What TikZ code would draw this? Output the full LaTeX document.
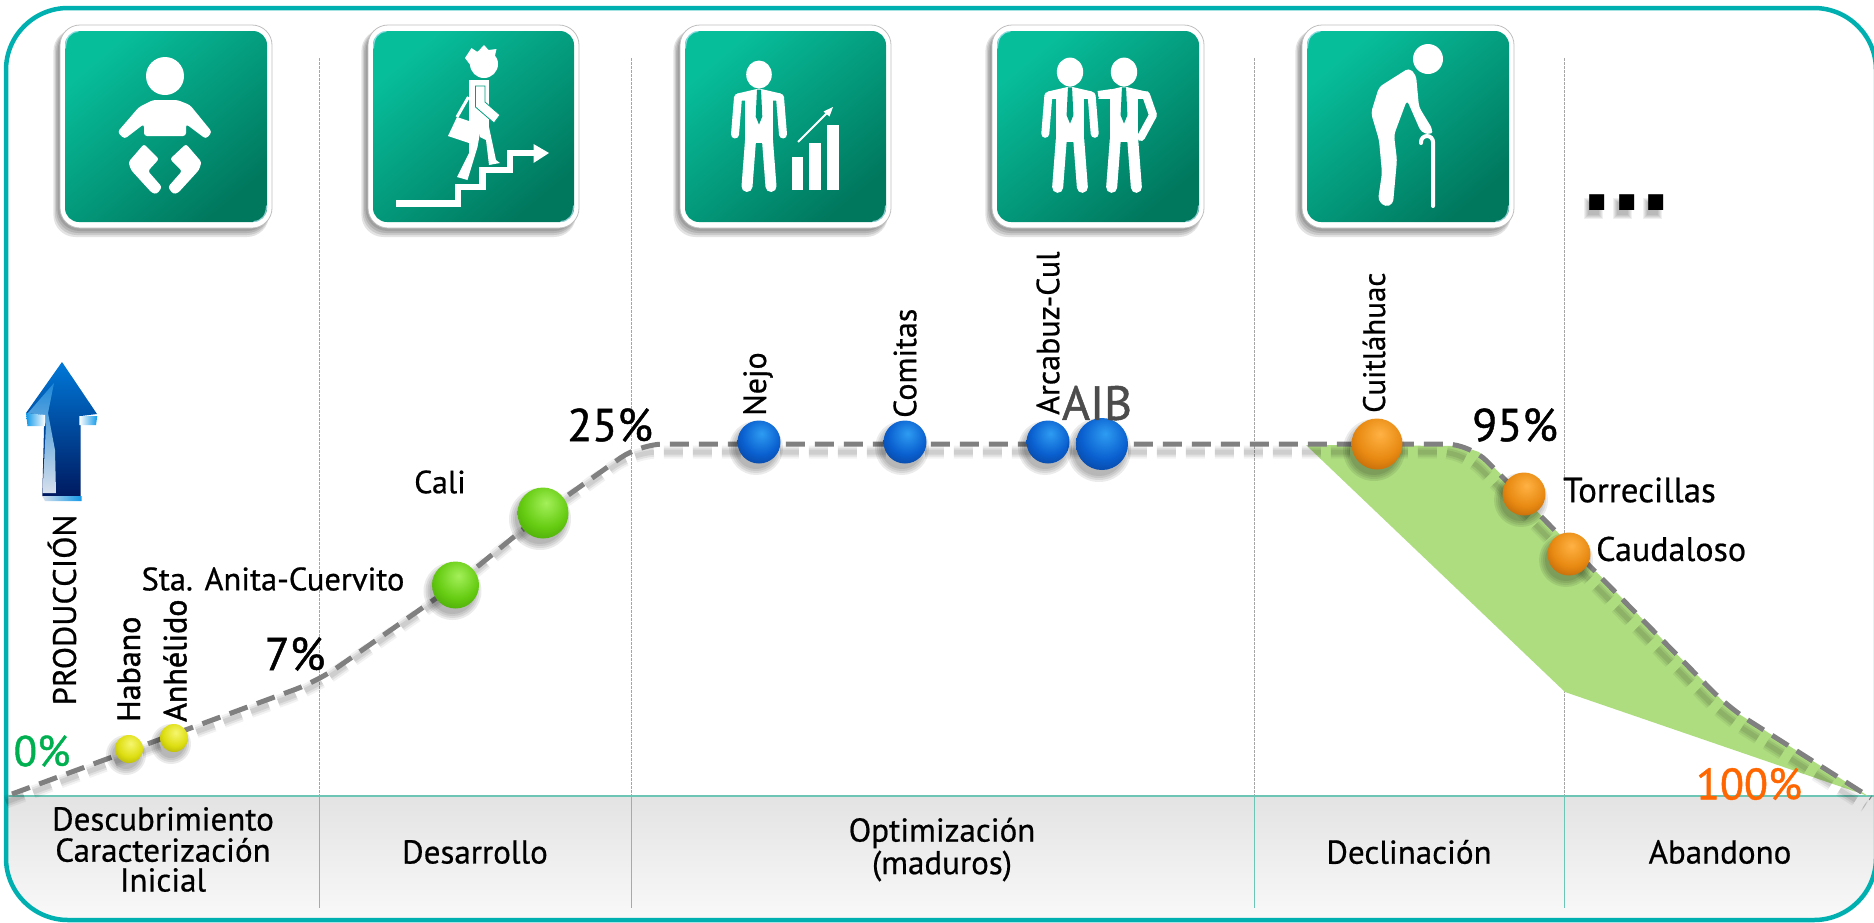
\documentclass[tikz,border=0pt]{standalone}
\usepackage{fontspec}
\setmainfont{PT Sans}[FakeBold=0.6]
\newfontfamily\dotfont{Liberation Sans}
\newfontfamily\heavyf{PT Sans}[FakeBold=1.4]
\newfontfamily\pctf{PT Sans}[FakeBold=1.0]
\usetikzlibrary{calc}
\definecolor{teal1}{HTML}{00B0B0}
\definecolor{bandline}{HTML}{6CC5B5}
\definecolor{tileA}{HTML}{07BE9B}
\definecolor{tileB}{HTML}{00785E}
\definecolor{tileM}{HTML}{009E80}
\definecolor{dashg}{HTML}{808080}
\definecolor{leaf}{HTML}{AEDD80}
\definecolor{pctgreen}{HTML}{00B050}
\definecolor{pctorange}{HTML}{FF6600}
\definecolor{gA}{HTML}{A4F05A}\definecolor{gB}{HTML}{66CC12}\definecolor{gC}{HTML}{308600}
\definecolor{yA}{HTML}{F6F670}\definecolor{yB}{HTML}{DEDE12}\definecolor{yC}{HTML}{868600}
\definecolor{bA}{HTML}{2E9CF2}\definecolor{bB}{HTML}{0A60D0}\definecolor{bC}{HTML}{042A70}
\definecolor{oA}{HTML}{FFB244}\definecolor{oB}{HTML}{E88A12}\definecolor{oC}{HTML}{964400}
\definecolor{arT}{HTML}{0078D8}\definecolor{arM}{HTML}{0050A8}\definecolor{arB}{HTML}{001A60}
\definecolor{arL}{HTML}{1E88D8}\definecolor{arS}{HTML}{8FB4DC}\definecolor{arW}{HTML}{D8E0EC}
\definecolor{arF}{HTML}{1098E8}
\pgfdeclareradialshading{ballG}{\pgfpoint{3bp}{10bp}}{color(0bp)=(gA);color(22bp)=(gB);color(50bp)=(gC);color(100bp)=(gC)}
\pgfdeclareradialshading{ballY}{\pgfpoint{3bp}{10bp}}{color(0bp)=(yA);color(22bp)=(yB);color(50bp)=(yC);color(100bp)=(yC)}
\pgfdeclareradialshading{ballB}{\pgfpoint{3bp}{10bp}}{color(0bp)=(bA);color(22bp)=(bB);color(50bp)=(bC);color(100bp)=(bC)}
\pgfdeclareradialshading{ballO}{\pgfpoint{3bp}{10bp}}{color(0bp)=(oA);color(22bp)=(oB);color(50bp)=(oC);color(100bp)=(oC)}
\newcommand\fsz[1]{\fontsize{#1}{#1}\selectfont}
\tikzset{
  lbl/.style={inner sep=0pt,text=black},
  sep/.style={draw=gray!70,line width=.7,dash pattern=on 2.5pt off 1.5pt},
  sepb/.style={draw=bandline,line width=1},
  icon/.style={fill=white,draw=none},
  curveline/.style={draw=dashg,line width=5,dash pattern=on 19pt off 10pt},
  curveshadow/.style={draw=black,dash pattern=on 19pt off 10pt,shift={(-6,8)}},
  ballnode/.style={circle,inner sep=0,minimum size=#1},
}
\newcommand\tile[2]{%
  \foreach \e in {8,6,4,2}{\fill[black,opacity=.11,rounded corners=22] ({#1-1-\e*.7},29) rectangle ({#2-3},{229+\e});}
  \fill[white,draw=gray!50,line width=.8,rounded corners=20] (#1,25) rectangle (#2,228);
  \shade[top color=tileA,bottom color=tileB,shading angle=40,rounded corners=14] ({#1+5},31) rectangle ({#2-5},222);
  \draw[cyan!25!white,opacity=.7,line width=1.2,line cap=round] ({#1+5.5},48) .. controls ({#1+5.5},38) and ({#1+10},32) .. ({#1+18},31.5);
  \draw[cyan!25!white,opacity=.7,line width=1.2,line cap=round] ({#2-5.5},206) .. controls ({#2-5.5},215) and ({#2-10},221) .. ({#2-18},221.5);}
\newcommand\manbase[2]{\begin{scope}[shift={(#1,#2)}]
  \fill[icon] (0,0) ellipse [x radius=12.8,y radius=14];
  \fill[icon] (0,14)--(21.6,19)--(25,26)--(-25,26)--(-21.6,19)--cycle;
  \fill[icon] (-14,22) rectangle (14,68);
  \draw[white,line width=11,line cap=round] (-8.5,66)--(-12,112);
  \draw[white,line width=11,line cap=round] (8.5,66)--(12,112);
  \fill[tileM] (-2,15)--(2,15)--(3.3,42)--(0,50)--(-3.3,42)--cycle;
\end{scope}}
\newcommand\manarmL[2]{\draw[white,line width=8,line cap=round] ({#1-21},{#2+23})--({#1-24},{#2+60});}
\newcommand\manarmR[2]{\draw[white,line width=8,line cap=round] ({#1+21},{#2+23})--({#1+24},{#2+60});}
\newcommand\ballshadow[3]{\foreach \e in {6,4,2,0}{\fill[black,opacity=.08] ({#1-3},{#2+6}) circle ({#3+\e});}}
\newcommand\curvepath{(12,794)--(318,681)--(455,585)--(543,513)--(640,444)--(1470,444)--(1729,708)--(1871,798)}
\begin{document}
\begin{tikzpicture}[x=1pt,y=-1pt]
\useasboundingbox (0,0) rectangle (1874,922);
\fill[white] (0,0) rectangle (1874,922);
% band
\begin{scope}
  \clip[rounded corners=62] (6,8) rectangle (1876,920);
  \shade[top color=black!11,bottom color=black!2] (0,796) rectangle (1880,925);
\end{scope}
\draw[teal1,line width=4.5,rounded corners=62] (6,8) rectangle (1876,920);
% separators
\foreach \x in {319,631,1254,1564}{
  \draw[sep] (\x,58)--(\x,796);
  \draw[sepb] (\x,796)--(\x,908);
}
\draw[bandline,line width=1.4] (8,796)--(1874,796);
% tiles
\tile{60}{272}\tile{368}{579}\tile{680}{891}\tile{992}{1204}\tile{1302}{1514}
% baby
\fill[icon] (165,76) circle [x radius=19,y radius=19];
\fill[icon,rounded corners=3] (153,100)--(177.5,100)--(190,105)--(212,132)--(206,139)--(186,124)--(186,136)--(144,136)--(144,124)--(124.5,139)--(117.5,132)--(139,107)--cycle;
\fill[icon,rounded corners=2.5] (144,144)--(159,159)--(148,171)--(162,187)--(157,194)--(152,193)--(131,170)--(128.5,162)--cycle;
\fill[icon,rounded corners=2.5] (186,144)--(170,159)--(182,171)--(168,187)--(173,194)--(178,193)--(199,170)--(201.5,162)--cycle;
% walker
\draw[white,line width=6.5] (396,203.7)--(458,203.7)--(458,187)--(482.5,187)--(482.5,170)--(510,170)--(510,153)--(536,153);
\fill[icon] (533.5,144)--(549,153)--(533.5,163)--cycle;
\fill[icon] (484,64) circle [x radius=14,y radius=14];
\fill[icon] (465,58)--(471.5,48)--(477.5,52)--(484,45)--(488.5,50)--(496.5,49)--(494,60)--(474,70)--cycle;
\fill[icon] (468.5,80) rectangle (489,127);
\fill[icon,draw=tileM,line width=.8] (475.5,86)--(485,86)--(485,102)--(500,115)--(494,123)--(475.5,107)--cycle;
\draw[white,line width=3] (468.5,97)--(457,117);
\fill[icon] (457,117)--(469,121)--(469,143)--(448,136)--cycle;
\fill[icon] (469,127)--(480,127)--(480,133)--(477.5,147)--(467.5,180)--(457,177)--(469,153)--cycle;
\fill[icon] (480,127)--(489,127)--(496,160)--(500,163)--(489,165)--(486,140)--(480,137)--cycle;
% man + chart
\manbase{759}{74.5}\manarmL{759}{74.5}\manarmR{759}{74.5}
\fill[icon] (792,157) rectangle (803,190);
\fill[icon] (809,143) rectangle (821,190);
\fill[icon] (827,125) rectangle (839,190);
\draw[white,line width=2] (798,142)--(829,111);
\fill[icon] (833,107)--(823.5,111.5)--(829.5,116.5)--cycle;
% two men
\begin{scope}[shift={(1070,72)},scale=1.03]\manbase{0}{0}\manarmL{0}{0}\manarmR{0}{0}\end{scope}
\begin{scope}[shift={(1124,72)},scale=1.03]\manbase{0}{0}\end{scope}
\draw[white,line width=8,line cap=round,line join=round] (1146,95)--(1153,115)--(1141,137);
\draw[white,line width=6] (1112,92)--(1098,94);
% old man
\fill[icon] (1428,59) circle [x radius=15,y radius=15];
\fill[icon,rounded corners=4] (1409,68)--(1416,75)--(1419,107)--(1433,130)--(1431,135)--(1421,132)--(1407,100)--(1394,135)--(1397,160)--(1393,204)--(1385,207)--(1378,200)--(1382,173)--(1379,140)--(1371,113)--(1379,87)--cycle;
\draw[white,line width=4,line cap=round] (1433,206)--(1433,142) arc[start angle=0,end angle=-180,x radius=6,y radius=6]--(1421,143);
% dots shadow
\foreach \x in {1591,1620,1650}{\foreach \e in {4,3,2,1,0}{\fill[black,opacity=.06] ({\x-3-\e},{202-\e}) rectangle ({\x+8+\e},{215+\e});}}
\node[lbl,anchor=base] (dots) at (1627,210) {\dotfont\bfseries\fsz{106}...};
% green wedge
\fill[leaf] (1306,445)--(1461,446)--(1479,452)--(1729.5,708)--(1868,796)--(1565,692)--cycle;
% curve
\draw[curveshadow,opacity=.05,line width=13,rounded corners=24] \curvepath;
\draw[curveshadow,opacity=.07,line width=9,rounded corners=24] \curvepath;
\draw[curveshadow,opacity=.08,line width=5,rounded corners=24] \curvepath;
\draw[curveline,rounded corners=24] \curvepath;
% balls
\ballshadow{129}{749}{14}\node[ballnode=28,shading=ballY] (b1) at (129,749) {};
\ballshadow{174}{738}{14}\node[ballnode=28,shading=ballY] (b2) at (174,738) {};
\ballshadow{455.5}{585}{23}\node[ballnode=47,shading=ballG] (b3) at (455.5,585) {};
\ballshadow{543}{513}{25}\node[ballnode=51,shading=ballG] (b4) at (543,513) {};
\ballshadow{759}{442}{21}\node[ballnode=43,shading=ballB] (b5) at (759,442) {};
\ballshadow{905}{442}{21}\node[ballnode=43,shading=ballB] (b6) at (905,442) {};
\ballshadow{1048}{442}{21}\node[ballnode=43,shading=ballB] (b7) at (1048,442) {};
\ballshadow{1102}{444}{26}\node[ballnode=52,shading=ballB] (b8) at (1102,444) {};
\ballshadow{1377}{444}{25}\node[ballnode=51,shading=ballO] (b9) at (1377,444) {};
\ballshadow{1524}{494}{21}\node[ballnode=43,shading=ballO] (b10) at (1524,494) {};
\ballshadow{1569}{554}{21}\node[ballnode=43,shading=ballO] (b11) at (1569,554) {};
% production arrow
\shade[top color=arT,middle color=arM,bottom color=arB] (62,362)--(97,414)--(80.7,416)--(80.7,496)--(42.3,496)--(44.3,416)--(26,413)--cycle;
\shade[top color=arL,middle color=arS,bottom color=arW] (28,413)--(54,383)--(48,413)--(55,450)--(56,493)--(42.5,493)--(46,425)--(43,415)--cycle;
\shade[left color=arF,right color=white] (26,413)--(45,415)--(45,426)--(27.5,426)--cycle;
\shade[left color=white,right color=arF] (79.3,416)--(97.3,416)--(96,425)--(79.3,425)--cycle;
\shade[left color=arW,right color=arF] (42.3,496)--(81.7,496)--(81.7,501)--(45,501)--cycle;
% labels
\node[lbl,rotate=90] (prod) at (62,610) {\fsz{32.5}PRODUCCIÓN};
\node[lbl,rotate=90,anchor=west] (hab) at (129,722) {\heavyf\fsz{32}Habano};
\node[lbl,rotate=90,anchor=west] (anh) at (175,722) {\heavyf\fsz{32}Anhélido};
\node[lbl,rotate=90,anchor=west] (nejo) at (758,416) {\fsz{32}Nejo};
\node[lbl,rotate=90,anchor=west] (comi) at (905,418) {\fsz{32}Comitas};
\node[lbl,rotate=90,anchor=west] (arca) at (1048,415) {\fsz{32}Arcabuz-Cul};
\node[lbl,rotate=90,anchor=west] (cuit) at (1374,413) {\fsz{31}Cuitláhuac};
\node[lbl,text=black!70] (aib) at (1097,403) {\pctf\fsz{48}AIB};
\node[lbl] (sta) at (273,579) {\fsz{32.5}Sta. Anita-Cuervito};
\node[lbl] (cali) at (440,482) {\fsz{32}Cali};
\node[lbl,anchor=west] (torr) at (1563,490) {\fsz{35}Torrecillas};
\node[lbl,anchor=west] (caud) at (1596,549) {\fsz{34}Caudaloso};
\node[lbl] (p7) at (295,654) {\pctf\fsz{46}7\%};
\node[lbl] (p25) at (610,425) {\pctf\fsz{46}25\%};
\node[lbl] (p95) at (1515,425) {\pctf\fsz{46}95\%};
\node[lbl,text=pctgreen] (p0) at (42,751) {\pctf\fsz{43}0\%};
\node[lbl,text=pctorange] (p100) at (1749,784) {\pctf\fsz{44}100\%};
\node[lbl] (d1) at (163,819) {\fsz{33}Descubrimiento};
\node[lbl] (d2) at (163,850) {\fsz{33}Caracterización};
\node[lbl] (d3) at (163,880) {\fsz{33}Inicial};
\node[lbl] (d4) at (475,852) {\fsz{33}Desarrollo};
\node[lbl] (d5) at (942,833) {\fsz{33}Optimización};
\node[lbl] (d6) at (942,866) {\fsz{33}(maduros)};
\node[lbl] (d7) at (1409,852) {\fsz{33}Declinación};
\node[lbl] (d8) at (1720,852) {\fsz{33}Abandono};
\end{tikzpicture}
\end{document}
